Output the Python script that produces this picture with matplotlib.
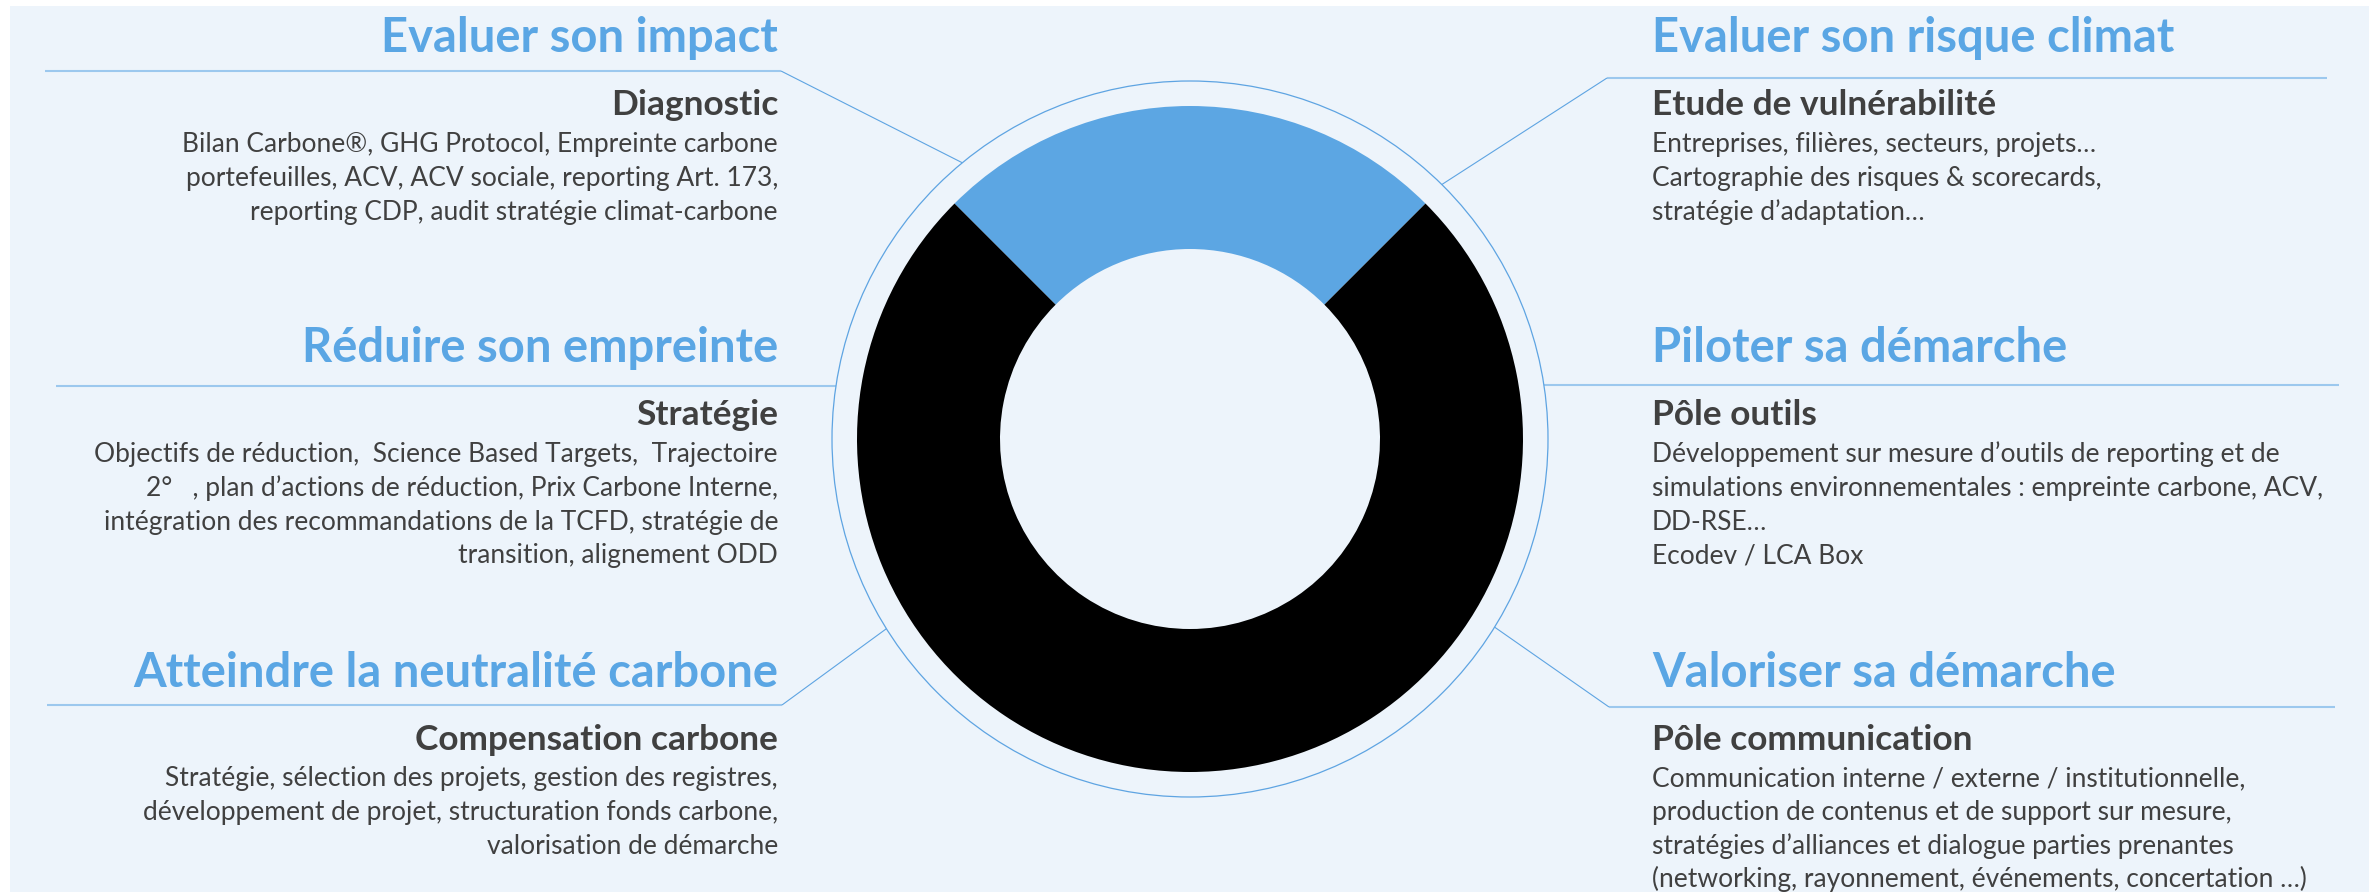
import matplotlib
matplotlib.use("Agg")
import matplotlib.pyplot as plt
from matplotlib.patches import Circle, Rectangle
import numpy as np

# ---------------- data ----------------
share_values = [25, 75]          # blue arc (top quarter) / black remainder

titles_left = ["Evaluer son impact", "Réduire son empreinte", "Atteindre la neutralité carbone"]
subtitles_left = ["Diagnostic", "Stratégie", "Compensation carbone"]
bodies_left = [
    ["Bilan Carbone®, GHG Protocol, Empreinte carbone",
     "portefeuilles, ACV, ACV sociale, reporting Art. 173,",
     "reporting CDP, audit stratégie climat-carbone"],
    ["Objectifs de réduction,  Science Based Targets,  Trajectoire",
     "2°   , plan d’actions de réduction, Prix Carbone Interne,",
     "intégration des recommandations de la TCFD, stratégie de",
     "transition, alignement ODD"],
    ["Stratégie, sélection des projets, gestion des registres,",
     "développement de projet, structuration fonds carbone,",
     "valorisation de démarche"],
]

titles_right = ["Evaluer son risque climat", "Piloter sa démarche", "Valoriser sa démarche"]
subtitles_right = ["Etude de vulnérabilité", "Pôle outils", "Pôle communication"]
bodies_right = [
    ["Entreprises, filières, secteurs, projets…",
     "Cartographie des risques & scorecards,",
     "stratégie d’adaptation…"],
    ["Développement sur mesure d’outils de reporting et de",
     "simulations environnementales : empreinte carbone, ACV,",
     "DD-RSE…",
     "Ecodev / LCA Box"],
    ["Communication interne / externe / institutionnelle,",
     "production de contenus et de support sur mesure,",
     "stratégies d’alliances et dialogue parties prenantes",
     "(networking, rayonnement, événements, concertation …)"],
]

# ---------------- style / layout ----------------
W, H = 2379, 892
BG = "#EDF4FB"
BLUE = "#5CA6E3"
TITLE_BLUE = "#5AA6E4"
DARK = "#404040"
LINE = "#5EA4E2"
ULINE = "#9CC8EE"
FONTS = ["Lato", "DejaVu Sans"]

CX, CY = 1190, 439
R_OUT, R_IN, R_RING = 333, 190, 358

fig = plt.figure(figsize=(W / 100, H / 100), dpi=100, facecolor="white")
ax = fig.add_axes([0, 0, 1, 1])


def Y(y):
    return H - y


ax.add_patch(Rectangle((10, 0), 2359, H - 6, fc=BG, ec="none", zorder=0))

ax.pie(share_values, colors=[BLUE, "black"], startangle=45, counterclock=True,
       radius=R_OUT, center=(CX, Y(CY)), frame=True,
       wedgeprops=dict(width=R_OUT - R_IN, edgecolor="none", linewidth=0))

ax.add_patch(Circle((CX, Y(CY)), R_RING, fill=False, ec=LINE, lw=0.9, zorder=3))

ax.set_xlim(0, W)
ax.set_ylim(0, H)
ax.set_aspect("equal")
ax.axis("off")


def ring_pt(deg):
    a = np.deg2rad(deg)
    return CX + R_RING * np.cos(a), CY - R_RING * np.sin(a)


def seg(x0, y0, x1, y1, color, lw):
    ax.plot([x0, x1], [Y(y0), Y(y1)], color=color, lw=lw, solid_capstyle="butt", zorder=2)


# connectors
seg(45, 71, 781, 71, ULINE, 1.5)
px, py = ring_pt(129.5)
seg(781, 71, px, py, LINE, 0.8)
seg(1607, 78, 2327, 78, ULINE, 1.5)
px, py = ring_pt(45.3)
seg(1607, 78, px, py, LINE, 0.8)
dx = np.sqrt(R_RING ** 2 - (CY - 386) ** 2)
seg(56, 386, CX - dx, 386, ULINE, 1.5)
seg(CX + dx, 385, 2339, 385, ULINE, 1.5)
seg(47, 705, 782, 705, ULINE, 1.5)
px, py = ring_pt(212)
seg(782, 705, px, py, LINE, 0.8)
seg(1609, 707, 2335, 707, ULINE, 1.5)
px, py = ring_pt(-31.7)
seg(1609, 707, px, py, LINE, 0.8)

# ---------------- text sizing ----------------
renderer = fig.canvas.get_renderer()


def fit(text, weight, target):
    t = ax.text(0, 0, text, fontsize=30, fontweight=weight, family=FONTS)
    w = t.get_window_extent(renderer).width
    t.remove()
    return 30 * target / w


FS_TITLE = fit("Evaluer son risque climat", "bold", 516) * 1.01
FS_SUB = fit("Pôle communication", "bold", 317) * 1.01
FS_BODY = fit("Communication interne / externe / institutionnelle,", "normal", 591) * 1.0

title_y = [52, 362, 687]
sub_y = [115, 425, 750]
body_y0 = [152, 462, 786]
body_dy = 33.8
XL, XR = 778, 1652


def block(x, ha, row, title, sub, body):
    ax.text(x, Y(title_y[row]), title, ha=ha, va="baseline", fontsize=FS_TITLE,
            fontweight="bold", color=TITLE_BLUE, family=FONTS, zorder=4)
    ax.text(x, Y(sub_y[row]), sub, ha=ha, va="baseline", fontsize=FS_SUB,
            fontweight="bold", color=DARK, family=FONTS, zorder=4)
    for i, line in enumerate(body):
        ax.text(x, Y(body_y0[row] + i * body_dy), line, ha=ha, va="baseline",
                fontsize=FS_BODY, color=DARK, family=FONTS, zorder=4)


for r in range(3):
    block(XL, "right", r, titles_left[r], subtitles_left[r], bodies_left[r])
    block(XR, "left", r, titles_right[r], subtitles_right[r], bodies_right[r])

fig.savefig("out.png", dpi=100, facecolor="white")
